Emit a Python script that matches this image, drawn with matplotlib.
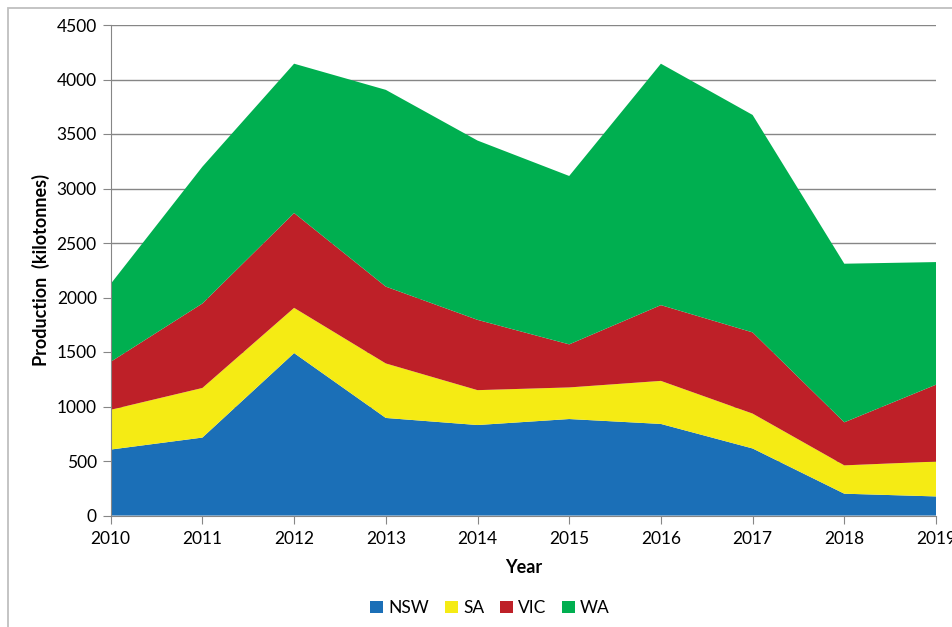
import numpy as np
import matplotlib
matplotlib.use('Agg')
import matplotlib.pyplot as plt
from matplotlib.patches import Rectangle, Patch

plt.rcParams['font.family'] = ['Lato', 'DejaVu Sans']

years = [2010, 2011, 2012, 2013, 2014, 2015, 2016, 2017, 2018, 2019]
nsw = [605, 715, 1490, 895, 830, 885, 840, 615, 200, 175]
sa = [365, 455, 415, 500, 320, 290, 395, 320, 260, 320]
vic = [440, 775, 870, 705, 645, 395, 695, 745, 395, 705]
wa = [715, 1255, 1370, 1805, 1645, 1545, 2215, 1995, 1455, 1125]

labels = ['NSW', 'SA', 'VIC', 'WA']
colors = ['#1b6fb7', '#f5eb14', '#be2028', '#00af50']

fig = plt.figure(figsize=(9.52, 6.27), dpi=100)
# chart border (only left and top visible in the crop)
fig.patches.append(Rectangle((7.5 / 952, -0.1), 1.2, 1 - 7.5 / 627 + 0.1,
                             transform=fig.transFigure, fill=False,
                             edgecolor='#bfbfbf', lw=1.3))

ax = fig.add_axes([110.7 / 952, (627 - 515.5) / 627, (936 - 110.7) / 952, (515.5 - 25) / 627])
ax.stackplot(years, nsw, sa, vic, wa, colors=colors, labels=labels, lw=0)

ax.set_xlim(2010, 2019)
ax.set_ylim(0, 4500)
ax.set_yticks(np.arange(0, 4501, 500))
ax.set_xticks(years)
ax.set_axisbelow(True)
ax.yaxis.grid(True, color='#868686', lw=1)

for s in ['top', 'right']:
    ax.spines[s].set_visible(False)
for s in ['left', 'bottom']:
    ax.spines[s].set_color('#868686')
    ax.spines[s].set_zorder(3)
ax.tick_params(axis='both', direction='out', length=6, color='#868686',
               labelsize=12.5, labelcolor='black')
ax.tick_params(axis='y', pad=4)
ax.tick_params(axis='x', pad=5)

ax.set_ylabel('Production  (kilotonnes)', fontsize=13, fontweight='bold', labelpad=5)
ax.set_xlabel('Year', fontsize=13, fontweight='bold', labelpad=9)

handles = [Patch(facecolor=c, label=l) for c, l in zip(colors, labels)]
fig.legend(handles=handles, loc='center', bbox_to_anchor=(490 / 952, 1 - 608 / 627),
           ncol=4, frameon=False, fontsize=12.5, handlelength=0.75, handleheight=0.75,
           handletextpad=0.3, columnspacing=0.9)

fig.savefig('out.png', dpi=100)
